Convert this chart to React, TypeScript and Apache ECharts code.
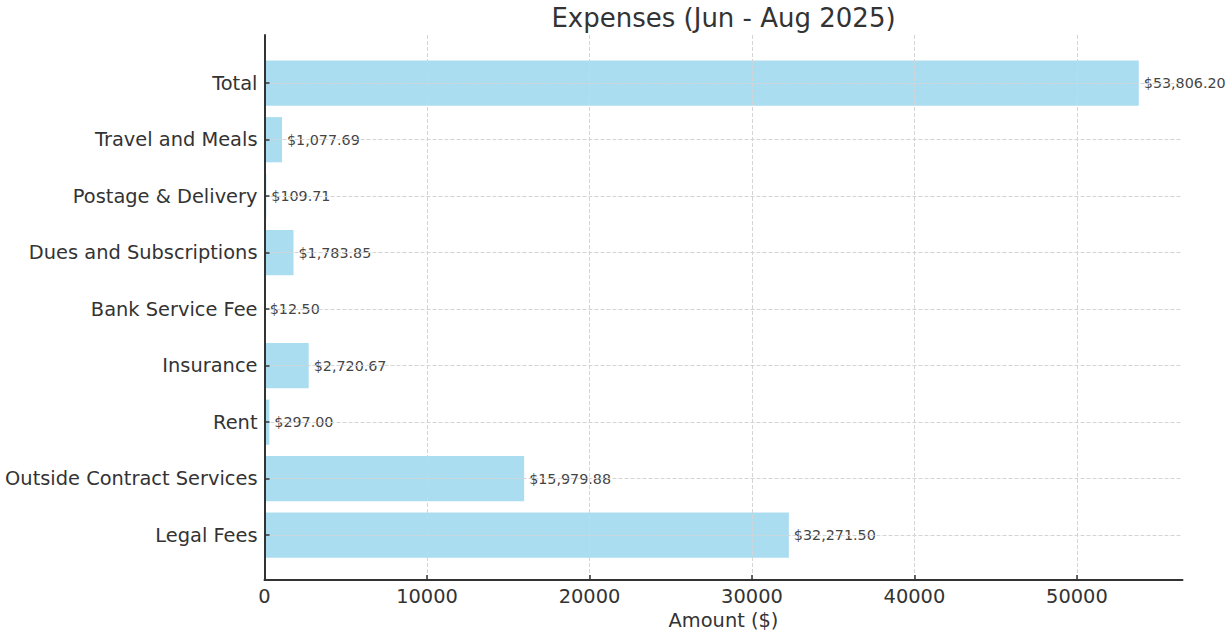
import React, { useEffect, useRef } from 'react';
import * as echarts from 'echarts';

const categories = [
  'Legal Fees',
  'Outside Contract Services',
  'Rent',
  'Insurance',
  'Bank Service Fee',
  'Dues and Subscriptions',
  'Postage & Delivery',
  'Travel and Meals',
  'Total',
];
const amounts = [32271.5, 15979.88, 297.0, 2720.67, 12.5, 1783.85, 109.71, 1077.69, 53806.2];
const xTicks = [0, 10000, 20000, 30000, 40000, 50000];
const xMax = 56496.5;
const titleText = 'Expenses (Jun - Aug 2025)';
const xAxisName = 'Amount ($)';

const FONT = "'DejaVu Sans', sans-serif";
const INK = '#333333';
const GRID_LINE = { color: '#d4d4d4', type: [4, 2] as any, width: 1 };

export default function App() {
  const ref = useRef<HTMLDivElement>(null);
  useEffect(() => {
    if (!ref.current) return;
    const chart = echarts.init(ref.current, undefined, { renderer: 'svg' });
    const fmt = (v: number) =>
      '$' + v.toLocaleString('en-US', { minimumFractionDigits: 2, maximumFractionDigits: 2 });
    chart.setOption({
      animation: false,
      textStyle: { fontFamily: FONT },
      graphic: [
        {
          type: 'text',
          x: 723.5,
          y: 18,
          style: {
            text: titleText,
            font: `26px ${FONT}`,
            fill: INK,
            textAlign: 'center',
            textVerticalAlign: 'middle',
          },
        },
      ],
      grid: [
        { left: 264.5, top: 35, width: 918, height: 547.5 },
        { left: 264.5, top: 83.2, width: 918, height: 452 },
      ],
      xAxis: [
        {
          gridIndex: 0,
          type: 'value',
          min: 0,
          max: xMax,
          interval: 10000,
          z: 3,
          name: xAxisName,
          nameLocation: 'middle',
          nameGap: 30,
          nameTextStyle: { fontSize: 19.4, color: INK, fontFamily: FONT },
          axisLine: { show: true, onZero: false, lineStyle: { color: INK, width: 2 } },
          axisTick: {
            show: true,
            inside: true,
            length: 5,
            customValues: xTicks,
            lineStyle: { color: INK, width: 1.5 },
          },
          axisLabel: {
            show: true,
            fontSize: 19.4,
            color: INK,
            fontFamily: FONT,
            margin: 7,
            customValues: xTicks,
            formatter: (v: number) => String(v),
          },
          splitLine: { show: true, lineStyle: GRID_LINE },
        },
        { gridIndex: 1, type: 'value', min: 0, max: xMax, show: false },
      ],
      yAxis: [
        {
          gridIndex: 0,
          type: 'value',
          min: 0,
          max: 1,
          z: 3,
          axisLine: { show: true, onZero: false, lineStyle: { color: INK, width: 2 } },
          axisTick: { show: false },
          axisLabel: { show: false },
          splitLine: { show: false },
        },
        {
          gridIndex: 1,
          type: 'category',
          data: categories,
          boundaryGap: false,
          z: 3,
          axisLine: { show: false },
          axisTick: { show: true, inside: true, length: 5, lineStyle: { color: INK, width: 1.5 } },
          axisLabel: { fontSize: 19.4, color: INK, fontFamily: FONT, margin: 7 },
          splitLine: { show: true, lineStyle: GRID_LINE },
        },
      ],
      series: [
        {
          type: 'bar',
          xAxisIndex: 1,
          yAxisIndex: 1,
          data: amounts,
          barWidth: '80%',
          clip: false,
          z: 2,
          itemStyle: { color: '#abddf1' },
          label: {
            show: true,
            position: 'right',
            distance: 5,
            fontSize: 14.3,
            color: '#444444',
            fontFamily: FONT,
            formatter: (p: any) => fmt(Number(p.value)),
          },
        },
      ],
    });
    return () => chart.dispose();
  }, []);
  return (
    <div
      ref={ref}
      style={{ position: 'absolute', left: 0, top: 0, width: '1227px', height: '635px' }}
    />
  );
}
